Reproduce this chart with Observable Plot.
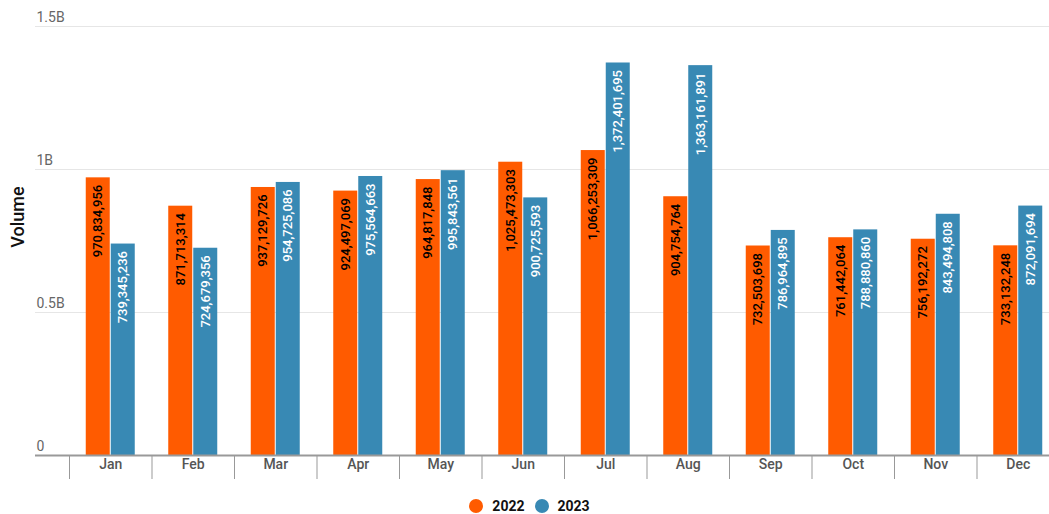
<!DOCTYPE html>
<html>
<head>
<meta charset="utf-8">
<script src="https://cdn.jsdelivr.net/npm/d3@7"></script>
<script src="https://cdn.jsdelivr.net/npm/@observablehq/plot@0.6"></script>
<style>
  body { margin: 0; background: #fff; font-family: Roboto, sans-serif; }
  #legend { display: flex; justify-content: center; align-items: center; height: 36px; font: 700 14px Roboto, sans-serif; color: #111; padding-left: 10px; }
  #legend .sw { width: 14px; height: 14px; border-radius: 50%; display: inline-block; margin-right: 9px; }
  #legend .item { display: flex; align-items: center; margin: 0 5px; }
</style>
</head>
<body>
<div id="chart"></div>
<div id="legend"></div>
<script>
const months = ["Jan","Feb","Mar","Apr","May","Jun","Jul","Aug","Sep","Oct","Nov","Dec"];
const years = ["2022","2023"];
const values2022 = [970834956, 871713314, 937129726, 924497069, 964817848, 1025473303, 1066253309, 904754764, 732503698, 761442064, 756192272, 733132248];
const values2023 = [739345236, 724679356, 954725086, 975564663, 995843561, 900725593, 1372401695, 1363161891, 786964895, 788880860, 843494808, 872091694];
const yTicks = [0, 0.5e9, 1e9, 1.5e9];
const yTickLabels = ["0", "0.5B", "1B", "1.5B"];
const colors = ["#ff5b00", "#3889b4"];

const rows = [
  ...months.map((m, i) => ({month: m, year: "2022", value: values2022[i]})),
  ...months.map((m, i) => ({month: m, year: "2023", value: values2023[i]}))
];
const r22 = rows.filter(d => d.year === "2022");
const r23 = rows.filter(d => d.year === "2023");
const fmt = d3.format(",");
const step = 82.5;

const plot = Plot.plot({
  width: 1049,
  height: 488,
  marginLeft: 35,
  marginRight: 0,
  marginTop: 26,
  marginBottom: 33,
  style: {fontFamily: "Roboto, sans-serif", background: "#fff"},
  x: {domain: months, range: [69, 1059], paddingInner: 0.697, paddingOuter: 0.3485, round: false, axis: null},
  y: {domain: [0, 1.5e9], axis: null},
  color: {domain: years, range: colors},
  marks: [
    Plot.ruleY(yTicks.slice(1), {stroke: "#e6e6e6", strokeWidth: 1}),
    Plot.text(yTicks, {y: d => d, text: (d, i) => yTickLabels[i], frameAnchor: "left", textAnchor: "start", dx: 1, dy: -9, fill: "#666", fontSize: 14}),
    Plot.barY(r22, {x: "month", y: "value", fill: "#ff5b00", dx: -12.5, insetLeft: 0.5, insetRight: 0.5}),
    Plot.barY(r23, {x: "month", y: "value", fill: "#3889b4", dx: 12.5, insetLeft: 0.5, insetRight: 0.5}),
    Plot.text(r22, {x: "month", y: "value", text: d => fmt(d.value), rotate: -90, textAnchor: "end", dx: -12.5, dy: 7, fill: "#000", fontSize: 13, fontWeight: 500}),
    Plot.text(r23, {x: "month", y: "value", text: d => fmt(d.value), rotate: -90, textAnchor: "end", dx: 12.5, dy: 7, fill: "#fff", fontSize: 13, fontWeight: 500}),
    Plot.ruleY([0], {stroke: "#999", strokeWidth: 2}),
    Plot.axisX({ticks: months, tickSize: 24, tickFormat: () => "", dx: -step / 2, stroke: "#999", strokeWidth: 1, label: null}),
    Plot.axisX({ticks: months, tickSize: 0, tickPadding: 4, fill: "#555", fontSize: 14, fontWeight: 500, label: null}),
    Plot.text(["Volume"], {frameAnchor: "left", textAnchor: "middle", rotate: -90, dx: -17, dy: -24, fontSize: 18, fontWeight: 500, fill: "#111"})
  ]
});
document.getElementById("chart").appendChild(plot);

const legend = document.getElementById("legend");
years.forEach((y, i) => {
  const item = document.createElement("span");
  item.className = "item";
  const sw = document.createElement("span");
  sw.className = "sw";
  sw.style.background = colors[i];
  item.appendChild(sw);
  item.appendChild(document.createTextNode(y));
  legend.appendChild(item);
});
</script>
</body>
</html>
